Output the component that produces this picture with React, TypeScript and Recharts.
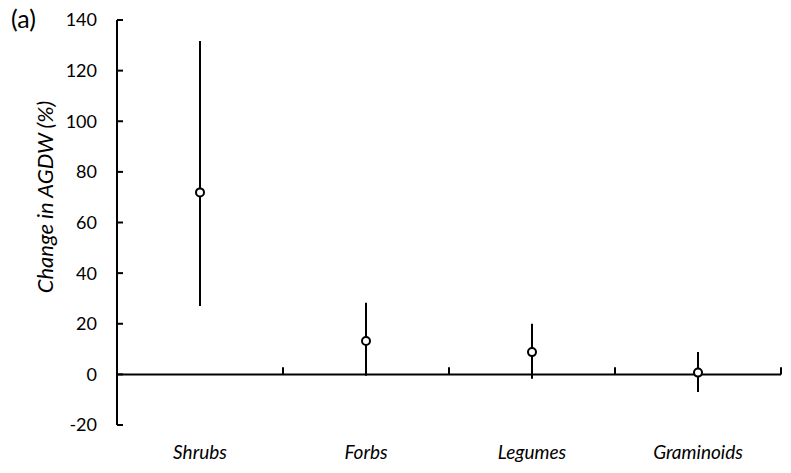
import React from "react";
import {
  ComposedChart,
  Line,
  ErrorBar,
  XAxis,
  YAxis,
  ReferenceLine,
} from "recharts";

const categories = ["Shrubs", "Forbs", "Legumes", "Graminoids"];
const means = [71.9, 13.2, 8.8, 0.7];
const upper = [131.7, 28.3, 20.0, 8.8];
const lower = [27.0, -0.5, -1.7, -7.0];
const yTicks = [-20, 0, 20, 40, 60, 80, 100, 120, 140];
const boundaries = [1, 2, 3, 4];

const data = categories.map((name, i) => ({
  x: i + 0.5,
  name,
  value: means[i],
  err: [means[i] - lower[i], upper[i] - means[i]],
}));

const FONT = "Lato, 'Open Sans', sans-serif";
const TICK_GAP = 20;

function YTick({ x, y, payload }: any) {
  return (
    <g>
      <line x1={x + TICK_GAP} x2={x + TICK_GAP + 6} y1={y} y2={y} stroke="#000" strokeWidth={2} />
      <text x={x} y={y} dy="0.355em" textAnchor="end" fontFamily={FONT} fontSize={18} fill="#000">
        {payload.value}
      </text>
    </g>
  );
}

export default function App() {
  return (
    <div style={{ position: "absolute", left: 0, top: 0, width: 791, height: 473, background: "#fff" }}>
      <div
        style={{
          position: "absolute",
          left: 11,
          top: 3,
          fontFamily: FONT,
          fontSize: 25,
          color: "#000",
        }}
      >
        (a)
      </div>
      <div
        style={{
          position: "absolute",
          left: 44,
          top: 197,
          transform: "translate(-50%, -50%) rotate(-90deg)",
          whiteSpace: "nowrap",
          fontFamily: FONT,
          fontStyle: "italic",
          fontSize: 22,
          color: "#000",
        }}
      >
        Change in AGDW (%)
      </div>
      <ComposedChart
        width={791}
        height={473}
        data={data}
        margin={{ top: 20, right: 10, left: 0, bottom: 0 }}
        style={{ position: "absolute", left: 0, top: 0 }}
      >
        <XAxis
          dataKey="x"
          type="number"
          domain={[0, 4]}
          ticks={data.map((d) => d.x)}
          tickFormatter={(v: number) => categories[Math.floor(v)]}
          axisLine={false}
          tickLine={false}
          tickSize={0}
          tickMargin={21}
          height={48}
          tick={{ fontFamily: FONT, fontSize: 19, fontStyle: "italic", fill: "#000" }}
        />
        <YAxis
          type="number"
          domain={[-20, 140]}
          ticks={yTicks}
          width={117}
          axisLine={{ stroke: "#000", strokeWidth: 2 }}
          tickLine={false}
          tickSize={0}
          tickMargin={TICK_GAP}
          tick={<YTick />}
          interval={0}
        />
        <ReferenceLine y={0} stroke="#000" strokeWidth={2} />
        {boundaries.map((b) => (
          <ReferenceLine
            key={b}
            segment={[
              { x: b, y: 0 },
              { x: b, y: 2.8 },
            ]}
            stroke="#000"
            strokeWidth={2}
          />
        ))}
        <Line
          dataKey="value"
          stroke="none"
          isAnimationActive={false}
          dot={{ r: 4, fill: "#fff", stroke: "#000", strokeWidth: 2 }}
          activeDot={false}
        >
          <ErrorBar dataKey="err" width={0} stroke="#000" strokeWidth={2} direction="y" />
        </Line>
      </ComposedChart>
    </div>
  );
}
